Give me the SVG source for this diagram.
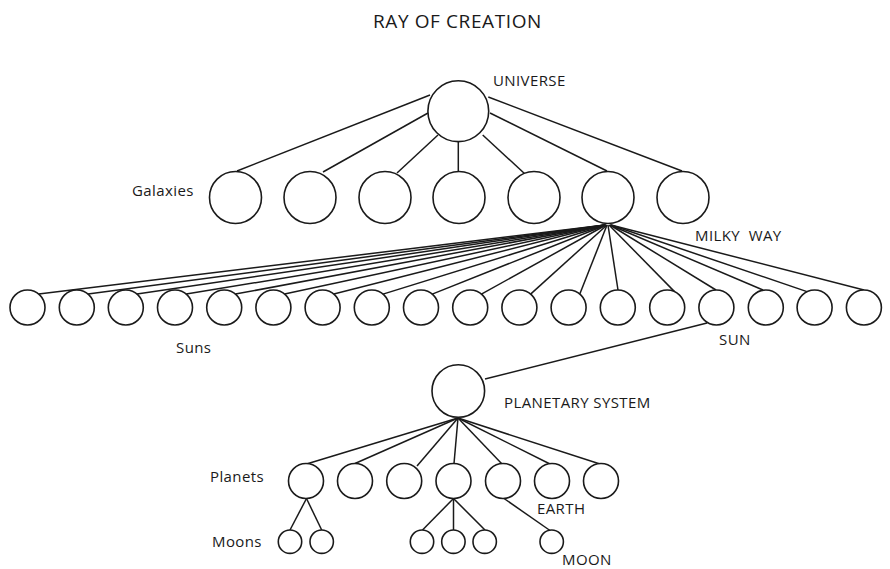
<svg xmlns="http://www.w3.org/2000/svg" width="890" height="569" viewBox="0 0 890 569">
<style>
circle{fill:#fff;stroke:#1a1a1a;stroke-width:1.6}
#connectors line{stroke:#1a1a1a;stroke-width:1.5}
text{font-family:"Open Sans","Liberation Sans",sans-serif;font-size:15px;fill:#1a1a1a;letter-spacing:0.4px}
.title{font-size:19px;letter-spacing:0.6px}
</style>
<rect width="890" height="569" fill="#fff"/>
<text class="title" x="457.5" y="28" text-anchor="middle">RAY OF CREATION</text>
<g id="connectors">
<line x1="430" y1="95" x2="237" y2="171"/>
<line x1="428" y1="113" x2="323" y2="172"/>
<line x1="438" y1="135" x2="397" y2="173"/>
<line x1="458.3" y1="141.5" x2="458.3" y2="171.5"/>
<line x1="482.7" y1="135" x2="525" y2="174"/>
<line x1="490" y1="113" x2="607" y2="171"/>
<line x1="488.3" y1="97" x2="682" y2="171"/>
<line x1="605" y1="225" x2="38.7" y2="294.1"/>
<line x1="605" y1="225" x2="88" y2="294.1"/>
<line x1="605" y1="225" x2="137" y2="294.1"/>
<line x1="605" y1="225" x2="186.2" y2="294.1"/>
<line x1="605" y1="225" x2="235.4" y2="294.1"/>
<line x1="605" y1="225" x2="284.6" y2="294.1"/>
<line x1="605" y1="225" x2="333.8" y2="294.1"/>
<line x1="606" y1="225" x2="383" y2="294.1"/>
<line x1="606" y1="225" x2="432.2" y2="294.1"/>
<line x1="606" y1="225" x2="481.4" y2="294.1"/>
<line x1="607" y1="225" x2="530.6" y2="294.1"/>
<line x1="607" y1="225" x2="579.8" y2="294.1"/>
<line x1="608" y1="225" x2="618" y2="290"/>
<line x1="609" y1="225" x2="674.5" y2="291.6"/>
<line x1="610" y1="225" x2="716" y2="290"/>
<line x1="610" y1="225" x2="763" y2="290"/>
<line x1="611" y1="225" x2="807" y2="291.6"/>
<line x1="611" y1="225" x2="864" y2="290"/>
<line x1="707" y1="323" x2="485" y2="379"/>
<line x1="458" y1="418" x2="306.5" y2="464"/>
<line x1="458" y1="418" x2="355" y2="463.5"/>
<line x1="458" y1="418" x2="417" y2="466"/>
<line x1="458" y1="418" x2="454" y2="463.5"/>
<line x1="458" y1="418" x2="502" y2="464"/>
<line x1="458" y1="418" x2="550" y2="464"/>
<line x1="458" y1="418" x2="600" y2="464"/>
<line x1="306.5" y1="498.5" x2="290" y2="530"/>
<line x1="306.5" y1="498.5" x2="321.7" y2="530"/>
<line x1="453.5" y1="498.5" x2="422.5" y2="530"/>
<line x1="453.5" y1="498.5" x2="453.5" y2="530"/>
<line x1="453.5" y1="498.5" x2="485" y2="530"/>
<line x1="503.3" y1="498" x2="550" y2="530.5"/>
</g>
<g id="universe"><circle cx="458.3" cy="111.2" r="30.4"/><text x="493" y="85.5">UNIVERSE</text></g>
<g id="galaxy-1"><circle cx="235.5" cy="197.5" r="26"/><text x="132" y="196">Galaxies</text></g>
<g id="galaxy-2"><circle cx="310" cy="197.5" r="26"/></g>
<g id="galaxy-3"><circle cx="385" cy="197.5" r="26"/></g>
<g id="galaxy-4"><circle cx="459" cy="197.5" r="26"/></g>
<g id="galaxy-5"><circle cx="534" cy="197.5" r="26"/></g>
<g id="milky-way"><circle cx="608" cy="197.5" r="26"/><text x="695" y="240.5" xml:space="preserve">MILKY  WAY</text></g>
<g id="galaxy-7"><circle cx="683" cy="197.5" r="26"/></g>
<g id="sun-1"><circle cx="27.5" cy="307.5" r="17.5"/></g>
<g id="sun-2"><circle cx="76.8" cy="307.5" r="17.5"/></g>
<g id="sun-3"><circle cx="125.8" cy="307.5" r="17.5"/></g>
<g id="sun-4"><circle cx="175" cy="307.5" r="17.5"/><text x="176" y="353">Suns</text></g>
<g id="sun-5"><circle cx="224.2" cy="307.5" r="17.5"/></g>
<g id="sun-6"><circle cx="273.4" cy="307.5" r="17.5"/></g>
<g id="sun-7"><circle cx="322.6" cy="307.5" r="17.5"/></g>
<g id="sun-8"><circle cx="371.8" cy="307.5" r="17.5"/></g>
<g id="sun-9"><circle cx="421" cy="307.5" r="17.5"/></g>
<g id="sun-10"><circle cx="470.2" cy="307.5" r="17.5"/></g>
<g id="sun-11"><circle cx="519.4" cy="307.5" r="17.5"/></g>
<g id="sun-12"><circle cx="568.6" cy="307.5" r="17.5"/></g>
<g id="sun-13"><circle cx="617.8" cy="307.5" r="17.5"/></g>
<g id="sun-14"><circle cx="667.2" cy="307.5" r="17.5"/></g>
<g id="sun"><circle cx="716.4" cy="307.5" r="17.5"/><text x="719" y="345">SUN</text></g>
<g id="sun-16"><circle cx="765.8" cy="307.5" r="17.5"/></g>
<g id="sun-17"><circle cx="814.6" cy="307.5" r="17.5"/></g>
<g id="sun-18"><circle cx="863.9" cy="307.5" r="17.5"/></g>
<g id="planetary-system"><circle cx="458.3" cy="391" r="26.3"/><text x="504" y="408">PLANETARY SYSTEM</text></g>
<g id="planet-1"><circle cx="306" cy="481" r="17.5"/><text x="210" y="482">Planets</text></g>
<g id="planet-2"><circle cx="355" cy="481" r="17.5"/></g>
<g id="planet-3"><circle cx="404.2" cy="481" r="17.5"/></g>
<g id="planet-4"><circle cx="453.5" cy="481" r="17.5"/></g>
<g id="planet-5"><circle cx="503" cy="481" r="17.5"/></g>
<g id="planet-6"><circle cx="552" cy="481" r="17.5"/><text x="537" y="514">EARTH</text></g>
<g id="planet-7"><circle cx="601" cy="481" r="17.5"/></g>
<g id="moon-1"><circle cx="290" cy="541.7" r="11.7"/><text x="212" y="547">Moons</text></g>
<g id="moon-2"><circle cx="321.7" cy="541.7" r="11.7"/></g>
<g id="moon-3"><circle cx="422" cy="541.7" r="11.7"/></g>
<g id="moon-4"><circle cx="453.4" cy="541.7" r="11.7"/></g>
<g id="moon-5"><circle cx="484.7" cy="541.7" r="11.7"/></g>
<g id="moon"><circle cx="551.7" cy="541.7" r="11.7"/><text x="562" y="565">MOON</text></g>
</svg>
